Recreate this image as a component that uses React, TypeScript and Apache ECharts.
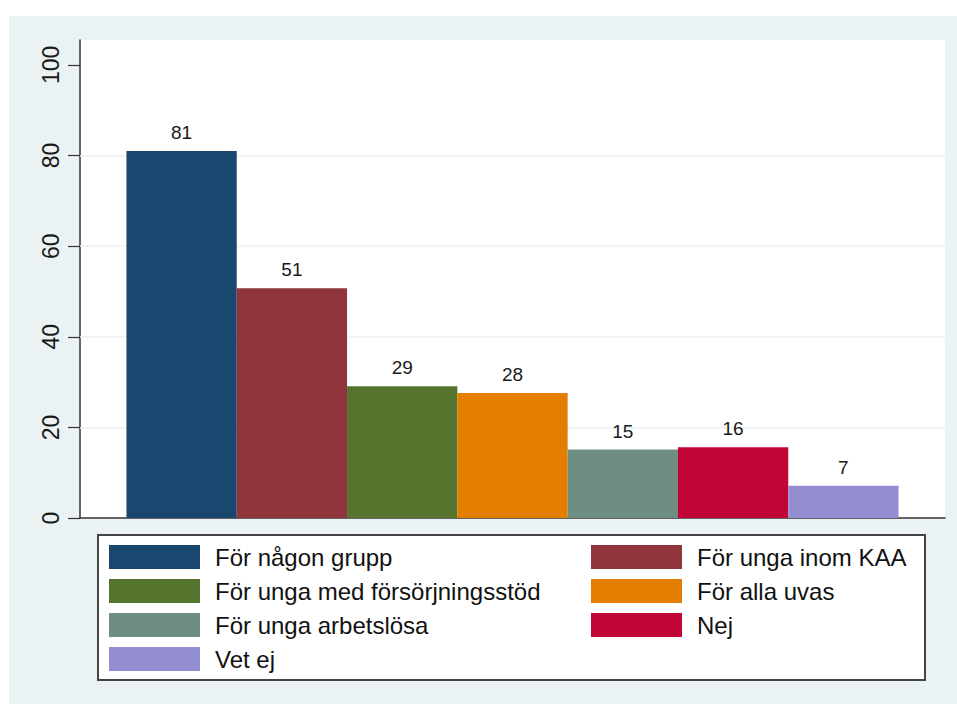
import React, { useEffect, useRef } from "react";
import * as echarts from "echarts";

const categories = [
  "För någon grupp",
  "För unga inom KAA",
  "För unga med försörjningsstöd",
  "För alla uvas",
  "För unga arbetslösa",
  "Nej",
  "Vet ej",
];
const values = [81.0, 50.7, 29.1, 27.6, 15.1, 15.6, 7.1];
const colors = ["#1A476F", "#90353B", "#55752F", "#E37E00", "#6E8E84", "#C10534", "#938DD2"];
const yTicks = [0, 20, 40, 60, 80, 100];
const gridValues = [20, 40, 60, 80];

const FONT = "'Liberation Sans', Arial, sans-serif";

export default function App() {
  const ref = useRef<HTMLDivElement>(null);
  useEffect(() => {
    if (!ref.current) return;
    const chart = echarts.init(ref.current, undefined, { renderer: "svg" });
    const barSeries = categories.map((name, i) => ({
      name,
      type: "bar",
      z: 3,
      data: [values[i]],
      barWidth: 110.3,
      barGap: "0%",
      itemStyle: { color: colors[i] },
      label: {
        show: true,
        position: "top",
        distance: 9,
        fontSize: 19,
        fontFamily: FONT,
        color: "#1a1a1a",
        formatter: (p: any) => String(Math.round(p.value)),
      },
    }));
    const leftItems = categories.filter((_, i) => i % 2 === 0);
    const rightItems = categories.filter((_, i) => i % 2 === 1);
    const legendCommon = {
      orient: "vertical",
      top: 545,
      itemWidth: 91,
      itemHeight: 24,
      itemGap: 10,
      icon: "rect",
      selectedMode: false,
      padding: 0,
      textStyle: {
        fontSize: 24,
        fontFamily: FONT,
        color: "#111",
        padding: [0, 0, 0, 10],
      },
    };
    chart.setOption({
      animation: false,
      backgroundColor: "#ffffff",
      textStyle: { fontFamily: FONT },
      graphic: [
        {
          type: "rect",
          z: -10,
          shape: { x: 9, y: 16, width: 948, height: 688 },
          style: { fill: "#EAF2F3" },
          silent: true,
        },
        {
          type: "rect",
          z: -5,
          shape: { x: 98, y: 535, width: 827, height: 145 },
          style: { fill: "#ffffff", stroke: "#444444", lineWidth: 2 },
          silent: true,
        },
      ],
      grid: {
        left: 80,
        top: 40,
        right: 12,
        bottom: 186,
        show: true,
        backgroundColor: "#ffffff",
        borderWidth: 0,
      },
      legend: [
        { ...legendCommon, left: 109, data: leftItems },
        { ...legendCommon, left: 591, data: rightItems },
      ],
      xAxis: {
        type: "category",
        data: [""],
        axisLine: { show: true, lineStyle: { color: "#333", width: 1.5 } },
        axisTick: { show: false },
        axisLabel: { show: false },
        splitLine: { show: false },
      },
      yAxis: {
        type: "value",
        min: 0,
        max: 105.5,
        interval: 20,
        axisLine: { show: true, lineStyle: { color: "#333", width: 1.5 } },
        axisTick: {
          show: true,
          length: 12,
          customValues: yTicks,
          lineStyle: { color: "#333", width: 1.2 },
        },
        axisLabel: {
          show: true,
          rotate: 90,
          margin: 18,
          fontSize: 23,
          fontFamily: FONT,
          color: "#1a1a1a",
          customValues: yTicks,
        },
        splitLine: { show: false },
      },
      series: [
        {
          name: "grid",
          type: "line",
          z: 1,
          data: [],
          silent: true,
          markLine: {
            silent: true,
            z: 1,
            symbol: "none",
            label: { show: false },
            lineStyle: { color: "#EAF2F3", width: 1.5, type: "solid" },
            data: gridValues.map((v) => ({ yAxis: v })),
          },
        },
        ...barSeries,
      ],
    });
    return () => chart.dispose();
  }, []);
  return (
    <div
      ref={ref}
      style={{ position: "absolute", left: 0, top: 0, width: 957, height: 704 }}
    />
  );
}
